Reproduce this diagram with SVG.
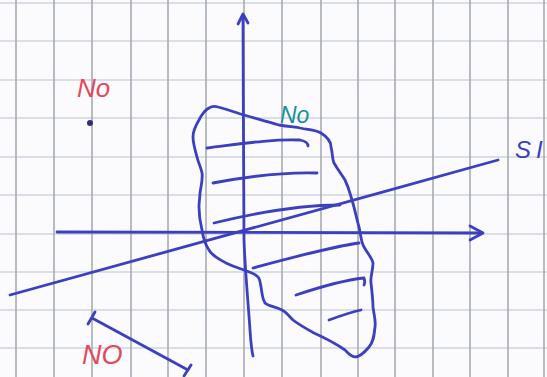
<svg xmlns="http://www.w3.org/2000/svg" width="547" height="377" viewBox="0 0 547 377">
<style>
.gv{stroke:#a9abb4;stroke-width:1.6}
.gh{stroke:#cfd5de;stroke-width:1.4}
.ink{fill:none;stroke:#3c3fbf;stroke-width:2.8;stroke-linecap:round;stroke-linejoin:round}
.hand{font-family:"Liberation Sans",Arial,sans-serif;font-style:italic}
</style>
<rect width="547" height="377" fill="#fbfbfd"/>
<g id="grid">
<line class="gh" x1="0" y1="3" x2="547" y2="3"/>
<line class="gh" x1="0" y1="41" x2="547" y2="41"/>
<line class="gh" x1="0" y1="80" x2="547" y2="80"/>
<line class="gh" x1="0" y1="118" x2="547" y2="118"/>
<line class="gh" x1="0" y1="157" x2="547" y2="157"/>
<line class="gh" x1="0" y1="195" x2="547" y2="195"/>
<line class="gh" x1="0" y1="234" x2="547" y2="234"/>
<line class="gh" x1="0" y1="272" x2="547" y2="272"/>
<line class="gh" x1="0" y1="310" x2="547" y2="310"/>
<line class="gh" x1="0" y1="348" x2="547" y2="348"/>
<line class="gv" x1="16" y1="0" x2="16" y2="377"/>
<line class="gv" x1="54" y1="0" x2="54" y2="377"/>
<line class="gv" x1="92" y1="0" x2="92" y2="377"/>
<line class="gv" x1="131" y1="0" x2="131" y2="377"/>
<line class="gv" x1="168" y1="0" x2="168" y2="377"/>
<line class="gv" x1="206" y1="0" x2="206" y2="377"/>
<line class="gv" x1="244" y1="0" x2="244" y2="377"/>
<line class="gv" x1="282" y1="0" x2="282" y2="377"/>
<line class="gv" x1="321" y1="0" x2="321" y2="377"/>
<line class="gv" x1="358" y1="0" x2="358" y2="377"/>
<line class="gv" x1="395" y1="0" x2="395" y2="377"/>
<line class="gv" x1="433" y1="0" x2="433" y2="377"/>
<line class="gv" x1="470" y1="0" x2="470" y2="377"/>
<line class="gv" x1="508" y1="0" x2="508" y2="377"/>
<line class="gv" x1="544" y1="0" x2="544" y2="377"/>
</g>
<g id="blob">
<path class="ink" d="M218,107 C230,110 236,113 244,115 C258,119 268,122 279,125 C290,127 296,127 300,128 C310,130 316,130 321,133 C329,138 331,142 331,147 C333,155 332,159 334,163 C338,170 342,175 345,180 C349,188 350,194 352,200 C355,210 357,220 359,227 C361,236 361,242 364,247 C368,254 372,258 373,263 C373,271 370,277 371,283 C372,292 373,300 373,307 C374,315 376,321 375,327 C374,337 373,343 369,347 C364,353 360,357 355,357 C350,356 348,353 345,350 C335,343 325,338 314,333 C305,328 298,324 293,320 C289,316 286,312 282,310 C276,307 268,306 265,303 C262,298 262,292 261,287 C260,282 260,279 258,277 C254,273 249,272 244,270 C238,268 232,266 226,263 C219,259 212,256 209,250 C205,244 203,237 202,230 C200,222 199,214 199,207 C199,201 200,197 200,193 C201,186 203,179 202,173 C201,167 198,162 197,157 C195,150 193,143 193,137 C193,130 196,125 199,120 C202,114 205,110 209,108 C212,106 215,106 218,107 Z"/>
</g>
<g id="hatch">
<path class="ink" d="M207,148 C240,144 270,139 300,140 C305,141 308,143 308,146"/>
<path class="ink" d="M213,183 C250,176 285,172 317,173"/>
<path class="ink" d="M214,223 C255,213 300,205 340,205"/>
<path class="ink" d="M253,268 C290,258 330,247 359,243"/>
<path class="ink" d="M296,295 C320,287 345,280 364,278 C365,281 365,283 364,285"/>
<path class="ink" d="M329,320 C340,316 352,312 361,310"/>
</g>
<g id="connectors">
<path class="ink" d="M243,16 C243,90 244,170 244,240 C245,270 248,300 250,330 C251,345 252,352 253,356"/>
<path class="ink" d="M238,24 L243,14 L248,23"/>
<path class="ink" d="M57,232 C150,231 300,232 482,233"/>
<path class="ink" d="M470,226 L483,233 L470,240"/>
<path class="ink" d="M10,295 C150,256 330,207 498,160"/>
<path class="ink" d="M92,318 L188,370"/>
<path class="ink" d="M88,324 L95,312"/>
<path class="ink" d="M184,376 L191,365"/>
</g>
<g id="labels">
<text class="hand" x="77" y="97" font-size="26" fill="#e04a5c">No</text>
<circle cx="90" cy="123" r="3" fill="#2b2f7a"/>
<text class="hand" x="280" y="123" font-size="23" fill="#17909c">No</text>
<text class="hand" x="82" y="364" font-size="27" fill="#e04a5c">NO</text>
<text class="hand" x="515" y="158" font-size="24" fill="#3c3fbf" letter-spacing="5">SI</text>
</g>
</svg>
